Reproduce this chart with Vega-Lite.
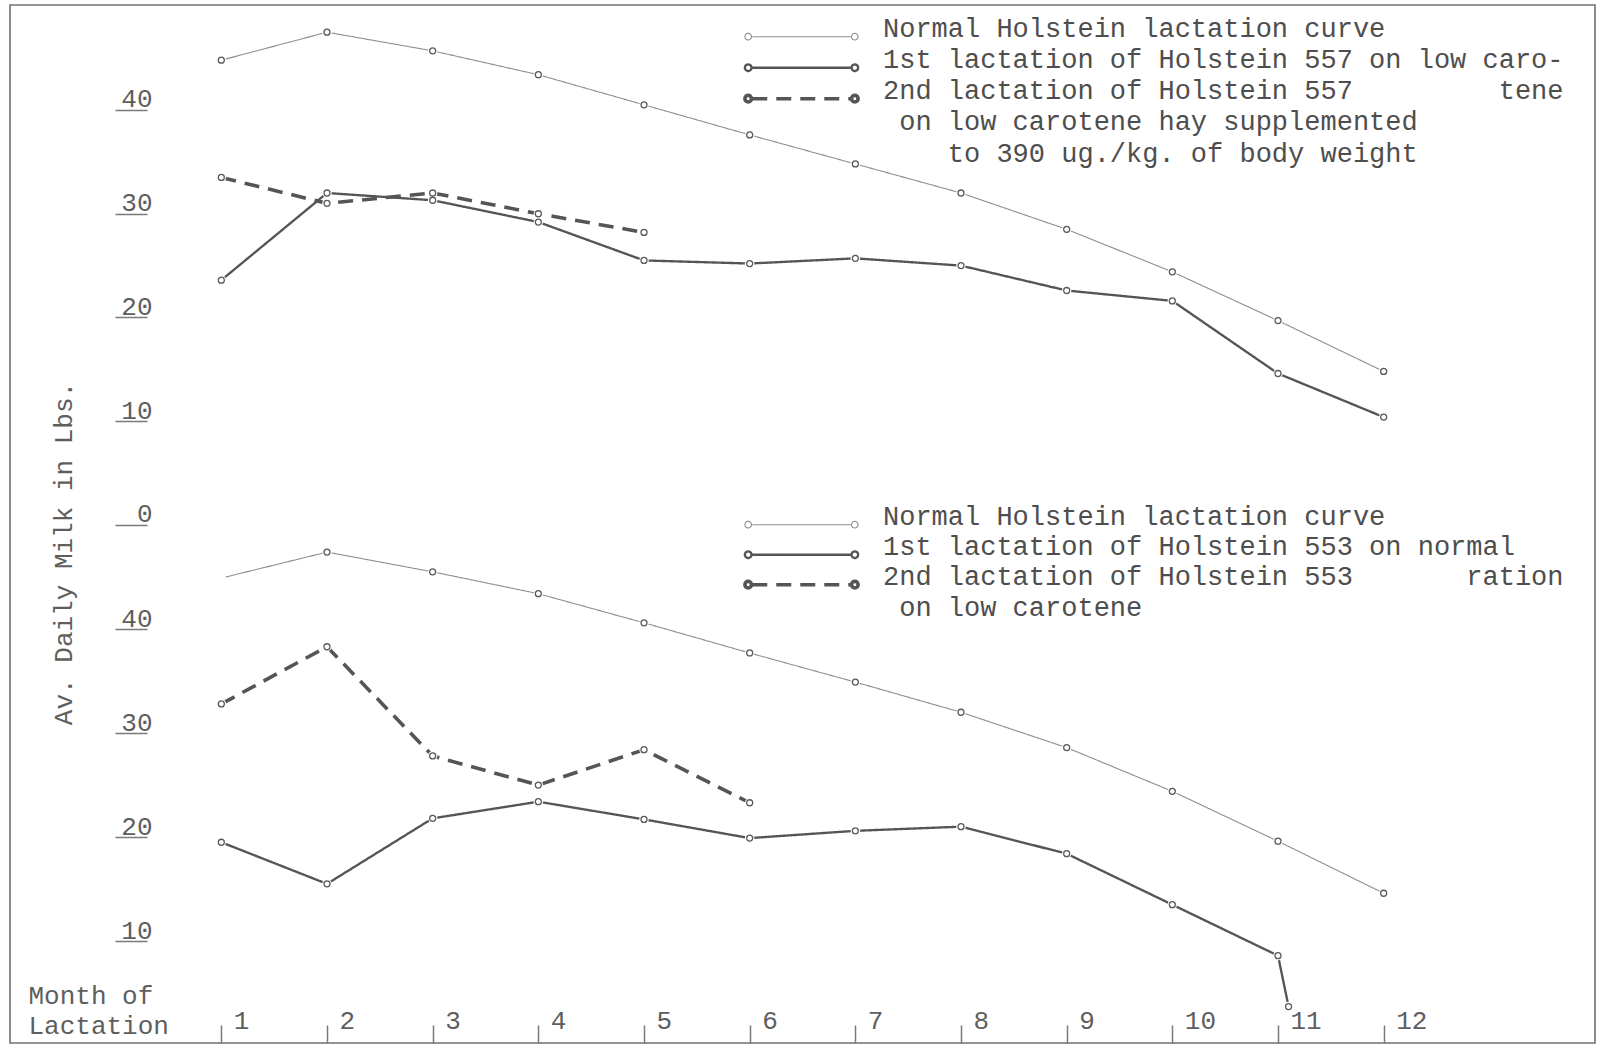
{
  "$schema": "https://vega.github.io/schema/vega-lite/v6.json",
  "width": 1585,
  "height": 1038,
  "autosize": "none",
  "padding": {"left": 10, "top": 5, "right": 5, "bottom": 4},
  "background": "white",
  "config": {
    "view": {"stroke": "#707070", "strokeWidth": 1.6},
    "font": "Liberation Mono",
    "style": {"guide-label": {"lineHeight": 31.5}},
    "axis": {
      "grid": false, "domain": false,
      "labelFont": "Liberation Mono", "titleFont": "Liberation Mono",
      "labelFontSize": 26, "titleFontSize": 26, "titleFontWeight": "normal",
      "labelColor": "#5e5e5e", "titleColor": "#5e5e5e",
      "tickColor": "#7a7a7a", "tickWidth": 1.5,
      "labelFlush": false, "labelOverlap": false, "labelBound": false
    }
  },
  "datasets": {
    "top": [
      {"month": 1, "milk": 44.8, "series": "Normal Holstein lactation curve"},
      {"month": 2, "milk": 47.5, "series": "Normal Holstein lactation curve"},
      {"month": 3, "milk": 45.7, "series": "Normal Holstein lactation curve"},
      {"month": 4, "milk": 43.4, "series": "Normal Holstein lactation curve"},
      {"month": 5, "milk": 40.5, "series": "Normal Holstein lactation curve"},
      {"month": 6, "milk": 37.6, "series": "Normal Holstein lactation curve"},
      {"month": 7, "milk": 34.8, "series": "Normal Holstein lactation curve"},
      {"month": 8, "milk": 32.0, "series": "Normal Holstein lactation curve"},
      {"month": 9, "milk": 28.5, "series": "Normal Holstein lactation curve"},
      {"month": 10, "milk": 24.4, "series": "Normal Holstein lactation curve"},
      {"month": 11, "milk": 19.7, "series": "Normal Holstein lactation curve"},
      {"month": 12, "milk": 14.8, "series": "Normal Holstein lactation curve"},
      {"month": 1, "milk": 23.6, "series": "1st lactation of Holstein 557 on low carotene"},
      {"month": 2, "milk": 32.0, "series": "1st lactation of Holstein 557 on low carotene"},
      {"month": 3, "milk": 31.3, "series": "1st lactation of Holstein 557 on low carotene"},
      {"month": 4, "milk": 29.2, "series": "1st lactation of Holstein 557 on low carotene"},
      {"month": 5, "milk": 25.5, "series": "1st lactation of Holstein 557 on low carotene"},
      {"month": 6, "milk": 25.2, "series": "1st lactation of Holstein 557 on low carotene"},
      {"month": 7, "milk": 25.7, "series": "1st lactation of Holstein 557 on low carotene"},
      {"month": 8, "milk": 25.0, "series": "1st lactation of Holstein 557 on low carotene"},
      {"month": 9, "milk": 22.6, "series": "1st lactation of Holstein 557 on low carotene"},
      {"month": 10, "milk": 21.6, "series": "1st lactation of Holstein 557 on low carotene"},
      {"month": 11, "milk": 14.6, "series": "1st lactation of Holstein 557 on low carotene"},
      {"month": 12, "milk": 10.4, "series": "1st lactation of Holstein 557 on low carotene"},
      {"month": 1, "milk": 33.5, "series": "2nd lactation of Holstein 557 on low carotene hay supplemented to 390 ug./kg. of body weight"},
      {"month": 2, "milk": 31.0, "series": "2nd lactation of Holstein 557 on low carotene hay supplemented to 390 ug./kg. of body weight"},
      {"month": 3, "milk": 32.0, "series": "2nd lactation of Holstein 557 on low carotene hay supplemented to 390 ug./kg. of body weight"},
      {"month": 4, "milk": 30.0, "series": "2nd lactation of Holstein 557 on low carotene hay supplemented to 390 ug./kg. of body weight"},
      {"month": 5, "milk": 28.2, "series": "2nd lactation of Holstein 557 on low carotene hay supplemented to 390 ug./kg. of body weight"}
    ],
    "bottom": [
      {"month": 1, "milk": 44.9, "series": "Normal Holstein lactation curve"},
      {"month": 2, "milk": 47.4, "series": "Normal Holstein lactation curve"},
      {"month": 3, "milk": 45.5, "series": "Normal Holstein lactation curve"},
      {"month": 4, "milk": 43.4, "series": "Normal Holstein lactation curve"},
      {"month": 5, "milk": 40.6, "series": "Normal Holstein lactation curve"},
      {"month": 6, "milk": 37.7, "series": "Normal Holstein lactation curve"},
      {"month": 7, "milk": 34.9, "series": "Normal Holstein lactation curve"},
      {"month": 8, "milk": 32.0, "series": "Normal Holstein lactation curve"},
      {"month": 9, "milk": 28.6, "series": "Normal Holstein lactation curve"},
      {"month": 10, "milk": 24.4, "series": "Normal Holstein lactation curve"},
      {"month": 11, "milk": 19.6, "series": "Normal Holstein lactation curve"},
      {"month": 12, "milk": 14.6, "series": "Normal Holstein lactation curve"},
      {"month": 1, "milk": 19.5, "series": "1st lactation of Holstein 553 on normal ration"},
      {"month": 2, "milk": 15.5, "series": "1st lactation of Holstein 553 on normal ration"},
      {"month": 3, "milk": 21.8, "series": "1st lactation of Holstein 553 on normal ration"},
      {"month": 4, "milk": 23.4, "series": "1st lactation of Holstein 553 on normal ration"},
      {"month": 5, "milk": 21.7, "series": "1st lactation of Holstein 553 on normal ration"},
      {"month": 6, "milk": 19.9, "series": "1st lactation of Holstein 553 on normal ration"},
      {"month": 7, "milk": 20.6, "series": "1st lactation of Holstein 553 on normal ration"},
      {"month": 8, "milk": 21.0, "series": "1st lactation of Holstein 553 on normal ration"},
      {"month": 9, "milk": 18.4, "series": "1st lactation of Holstein 553 on normal ration"},
      {"month": 10, "milk": 13.5, "series": "1st lactation of Holstein 553 on normal ration"},
      {"month": 11, "milk": 8.6, "series": "1st lactation of Holstein 553 on normal ration"},
      {"month": 11.1, "milk": 3.7, "series": "1st lactation of Holstein 553 on normal ration"},
      {"month": 1, "milk": 32.8, "series": "2nd lactation of Holstein 553 on low carotene"},
      {"month": 2, "milk": 38.3, "series": "2nd lactation of Holstein 553 on low carotene"},
      {"month": 3, "milk": 27.8, "series": "2nd lactation of Holstein 553 on low carotene"},
      {"month": 4, "milk": 25.0, "series": "2nd lactation of Holstein 553 on low carotene"},
      {"month": 5, "milk": 28.4, "series": "2nd lactation of Holstein 553 on low carotene"},
      {"month": 6, "milk": 23.3, "series": "2nd lactation of Holstein 553 on low carotene"}
    ]
  },
  "encoding": {
    "x": {
      "field": "month", "type": "quantitative",
      "scale": {"domain": [-1, 14], "nice": false, "zero": false},
      "axis": {
        "orient": "bottom", "values": [1, 2, 3, 4, 5, 6, 7, 8, 9, 10, 11, 12],
        "tickSize": -18, "labelAlign": "left", "labelBaseline": "alphabetic",
        "labelPadding": 3, "labelOffset": 12,
        "title": ["Month of", "Lactation"], "titleX": 18, "titleY": -40,
        "titleAlign": "left", "titleBaseline": "alphabetic", "titleLineHeight": 30, "titleAngle": 0
      }
    }
  },
  "layer": [
    {
      "data": {"name": "top"},
      "encoding": {
        "y": {
          "field": "milk", "type": "quantitative",
          "scale": {"domain": [-49.93, 50.12], "nice": false, "zero": false},
          "axis": {
            "orient": "left", "offset": -137, "values": [0, 10, 20, 30, 40],
            "tickSize": 32, "labelAlign": "right", "labelBaseline": "alphabetic",
            "labelPadding": -37, "labelOffset": -3,
            "title": "Av. Daily Milk in Lbs.", "titleX": -84, "titleY": 548,
            "titleAngle": -90, "titleAlign": "center", "titleBaseline": "middle"
          }
        }
      },
      "layer": [
        {
          "mark": {"type": "line", "strokeCap": "butt"},
          "encoding": {
            "color": {"field": "series", "type": "nominal",
              "scale": {"domain": ["Normal Holstein lactation curve", "1st lactation of Holstein 557 on low carotene", "2nd lactation of Holstein 557 on low carotene hay supplemented to 390 ug./kg. of body weight"], "range": ["#8e8e8e", "#555555", "#555555"]},
              "legend": {"title": null, "orient": "none", "legendX": 733, "legendY": 21.7, "padding": 0, "rowPadding": -1, "clipHeight": 20,
                "symbolType": "M-0.87,0L0.87,0M-1,0A0.058,0.058,0,0,0,-0.884,0M-0.884,0A0.058,0.058,0,0,0,-1,0M0.884,0A0.058,0.058,0,0,0,1,0M1,0A0.058,0.058,0,0,0,0.884,0",
                "symbolSize": 12814, "symbolFillColor": "transparent", "labelOffset": 23,
                "labelFont": "Liberation Mono", "labelFontSize": 27, "labelColor": "#4e4e4e", "labelLimit": 1500, "labelBaseline": "alphabetic",
                "labelExpr": "datum.value == '1st lactation of Holstein 557 on low carotene' ? '1st lactation of Holstein 557 on low caro-' : datum.value == '2nd lactation of Holstein 557 on low carotene hay supplemented to 390 ug./kg. of body weight' ? ['2nd lactation of Holstein 557\u00a0\u00a0\u00a0\u00a0\u00a0\u00a0\u00a0\u00a0\u00a0tene', '\u200b\u00a0on low carotene hay supplemented', '\u200b\u00a0\u00a0\u00a0\u00a0to 390 ug./kg. of body weight'] : datum.label"}
            },
            "strokeWidth": {"field": "series", "type": "ordinal",
              "scale": {"domain": ["Normal Holstein lactation curve", "1st lactation of Holstein 557 on low carotene", "2nd lactation of Holstein 557 on low carotene hay supplemented to 390 ug./kg. of body weight"], "range": [1.1, 3.6, 3.4]},
              "legend": {"title": null, "orient": "none", "legendX": 733, "legendY": 21.7, "padding": 0, "rowPadding": -1, "clipHeight": 20,
                "symbolType": "M-0.87,0L0.87,0M-1,0A0.058,0.058,0,0,0,-0.884,0M-0.884,0A0.058,0.058,0,0,0,-1,0M0.884,0A0.058,0.058,0,0,0,1,0M1,0A0.058,0.058,0,0,0,0.884,0",
                "symbolSize": 12814, "symbolFillColor": "transparent", "labelOffset": 23,
                "labelFont": "Liberation Mono", "labelFontSize": 27, "labelColor": "#4e4e4e", "labelLimit": 1500, "labelBaseline": "alphabetic",
                "labelExpr": "datum.value == '1st lactation of Holstein 557 on low carotene' ? '1st lactation of Holstein 557 on low caro-' : datum.value == '2nd lactation of Holstein 557 on low carotene hay supplemented to 390 ug./kg. of body weight' ? ['2nd lactation of Holstein 557\u00a0\u00a0\u00a0\u00a0\u00a0\u00a0\u00a0\u00a0\u00a0tene', '\u200b\u00a0on low carotene hay supplemented', '\u200b\u00a0\u00a0\u00a0\u00a0to 390 ug./kg. of body weight'] : datum.label"}
            },
            "strokeDash": {"field": "series", "type": "nominal",
              "scale": {"domain": ["Normal Holstein lactation curve", "1st lactation of Holstein 557 on low carotene", "2nd lactation of Holstein 557 on low carotene hay supplemented to 390 ug./kg. of body weight"], "range": [[1, 0], [1, 0], [15, 9]]},
              "legend": {"title": null, "orient": "none", "legendX": 733, "legendY": 21.7, "padding": 0, "rowPadding": -1, "clipHeight": 20,
                "symbolType": "M-0.87,0L0.87,0M-1,0A0.058,0.058,0,0,0,-0.884,0M-0.884,0A0.058,0.058,0,0,0,-1,0M0.884,0A0.058,0.058,0,0,0,1,0M1,0A0.058,0.058,0,0,0,0.884,0",
                "symbolSize": 12814, "symbolFillColor": "transparent", "labelOffset": 23,
                "labelFont": "Liberation Mono", "labelFontSize": 27, "labelColor": "#4e4e4e", "labelLimit": 1500, "labelBaseline": "alphabetic",
                "labelExpr": "datum.value == '1st lactation of Holstein 557 on low carotene' ? '1st lactation of Holstein 557 on low caro-' : datum.value == '2nd lactation of Holstein 557 on low carotene hay supplemented to 390 ug./kg. of body weight' ? ['2nd lactation of Holstein 557\u00a0\u00a0\u00a0\u00a0\u00a0\u00a0\u00a0\u00a0\u00a0tene', '\u200b\u00a0on low carotene hay supplemented', '\u200b\u00a0\u00a0\u00a0\u00a0to 390 ug./kg. of body weight'] : datum.label"}
            }
          }
        },
        {"mark": {"type": "point", "filled": true, "color": "white", "size": 90, "strokeWidth": 0, "opacity": 1}},
        {"mark": {"type": "point", "filled": false, "color": "#5a5a5a", "size": 36, "strokeWidth": 1.3, "opacity": 1}}
      ]
    },
    {
      "data": {"name": "bottom"},
      "encoding": {
        "y": {
          "field": "milk", "type": "quantitative",
          "scale": {"domain": [0.2, 100.0], "nice": false, "zero": false},
          "axis": {
            "orient": "left", "offset": -137, "values": [10, 20, 30, 40],
            "tickSize": 32, "labelAlign": "right", "labelBaseline": "alphabetic",
            "labelPadding": -37, "labelOffset": -3, "title": null
          }
        }
      },
      "layer": [
        {
          "mark": {"type": "line", "strokeCap": "butt"},
          "encoding": {
            "color": {"field": "series", "type": "nominal",
              "scale": {"domain": ["Normal Holstein lactation curve", "1st lactation of Holstein 553 on normal ration", "2nd lactation of Holstein 553 on low carotene"], "range": ["#8e8e8e", "#555555", "#555555"]},
              "legend": {"title": null, "orient": "none", "legendX": 733, "legendY": 509.7, "padding": 0, "rowPadding": -2, "clipHeight": 20,
                "symbolType": "M-0.87,0L0.87,0M-1,0A0.058,0.058,0,0,0,-0.884,0M-0.884,0A0.058,0.058,0,0,0,-1,0M0.884,0A0.058,0.058,0,0,0,1,0M1,0A0.058,0.058,0,0,0,0.884,0",
                "symbolSize": 12814, "symbolFillColor": "transparent", "labelOffset": 23,
                "labelFont": "Liberation Mono", "labelFontSize": 27, "labelColor": "#4e4e4e", "labelLimit": 1500, "labelBaseline": "alphabetic",
                "labelExpr": "datum.value == '1st lactation of Holstein 553 on normal ration' ? '1st lactation of Holstein 553 on normal' : datum.value == '2nd lactation of Holstein 553 on low carotene' ? ['2nd lactation of Holstein 553\u00a0\u00a0\u00a0\u00a0\u00a0\u00a0\u00a0ration', '\u200b\u00a0on low carotene'] : datum.label"}
            },
            "strokeWidth": {"field": "series", "type": "ordinal",
              "scale": {"domain": ["Normal Holstein lactation curve", "1st lactation of Holstein 553 on normal ration", "2nd lactation of Holstein 553 on low carotene"], "range": [1.1, 3.6, 3.4]},
              "legend": {"title": null, "orient": "none", "legendX": 733, "legendY": 509.7, "padding": 0, "rowPadding": -2, "clipHeight": 20,
                "symbolType": "M-0.87,0L0.87,0M-1,0A0.058,0.058,0,0,0,-0.884,0M-0.884,0A0.058,0.058,0,0,0,-1,0M0.884,0A0.058,0.058,0,0,0,1,0M1,0A0.058,0.058,0,0,0,0.884,0",
                "symbolSize": 12814, "symbolFillColor": "transparent", "labelOffset": 23,
                "labelFont": "Liberation Mono", "labelFontSize": 27, "labelColor": "#4e4e4e", "labelLimit": 1500, "labelBaseline": "alphabetic",
                "labelExpr": "datum.value == '1st lactation of Holstein 553 on normal ration' ? '1st lactation of Holstein 553 on normal' : datum.value == '2nd lactation of Holstein 553 on low carotene' ? ['2nd lactation of Holstein 553\u00a0\u00a0\u00a0\u00a0\u00a0\u00a0\u00a0ration', '\u200b\u00a0on low carotene'] : datum.label"}
            },
            "strokeDash": {"field": "series", "type": "nominal",
              "scale": {"domain": ["Normal Holstein lactation curve", "1st lactation of Holstein 553 on normal ration", "2nd lactation of Holstein 553 on low carotene"], "range": [[1, 0], [1, 0], [15, 9]]},
              "legend": {"title": null, "orient": "none", "legendX": 733, "legendY": 509.7, "padding": 0, "rowPadding": -2, "clipHeight": 20,
                "symbolType": "M-0.87,0L0.87,0M-1,0A0.058,0.058,0,0,0,-0.884,0M-0.884,0A0.058,0.058,0,0,0,-1,0M0.884,0A0.058,0.058,0,0,0,1,0M1,0A0.058,0.058,0,0,0,0.884,0",
                "symbolSize": 12814, "symbolFillColor": "transparent", "labelOffset": 23,
                "labelFont": "Liberation Mono", "labelFontSize": 27, "labelColor": "#4e4e4e", "labelLimit": 1500, "labelBaseline": "alphabetic",
                "labelExpr": "datum.value == '1st lactation of Holstein 553 on normal ration' ? '1st lactation of Holstein 553 on normal' : datum.value == '2nd lactation of Holstein 553 on low carotene' ? ['2nd lactation of Holstein 553\u00a0\u00a0\u00a0\u00a0\u00a0\u00a0\u00a0ration', '\u200b\u00a0on low carotene'] : datum.label"}
            }
          }
        },
        {"mark": {"type": "point", "filled": true, "color": "white", "size": 90, "strokeWidth": 0, "opacity": 1}},
        {
          "transform": [{"filter": "!(datum.series == 'Normal Holstein lactation curve' && datum.month == 1)"}],
          "mark": {"type": "point", "filled": false, "color": "#5a5a5a", "size": 36, "strokeWidth": 1.3, "opacity": 1}
        }
      ]
    }
  ],
  "resolve": {
    "scale": {"y": "independent", "color": "independent", "strokeWidth": "independent", "strokeDash": "independent"},
    "axis": {"y": "independent"},
    "legend": {"color": "independent", "strokeWidth": "independent", "strokeDash": "independent"}
  }
}
